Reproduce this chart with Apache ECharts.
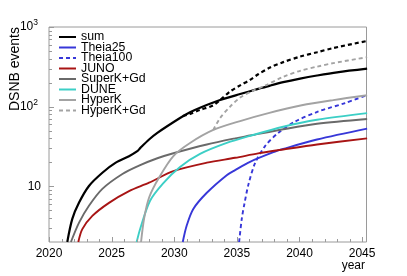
<!DOCTYPE html>
<html>
<head>
<meta charset="utf-8">
<script src="https://cdn.jsdelivr.net/npm/echarts@6/dist/echarts.min.js"></script>
<style>
html,body{margin:0;padding:0;background:#fff;}
#c{width:407px;height:276px;}
</style>
</head>
<body>
<div id="c"></div>
<script>
// ---- data ----
const sumYears = [2021.46, 2021.86, 2022.4, 2023.19, 2024.26, 2025.33, 2026.39, 2027.05, 2027.3, 2027.99, 2028.65, 2030.46, 2031.26, 2032.06, 2033.66, 2035.26, 2036.7, 2037.65, 2038.7, 2040.05, 2041.4, 2043.0, 2045.4];
const sumVals  = [2, 3.9, 6.25, 10.1, 14.8, 19.8, 23.9, 27.6, 30.4, 38.7, 46.9, 72, 85, 97, 121, 144, 167, 184, 203, 225, 246, 270, 300];

const sumAltYears = [2030.68, 2031.26, 2032.06, 2033.12, 2033.66, 2034.46, 2035.26, 2036.05, 2036.7, 2037.65, 2038.7, 2040.05, 2041.4, 2042.7, 2045.4];
const sumAltVals  = [76, 81, 91, 104, 121, 155, 185, 217, 255, 310, 362, 425, 482, 545, 668];

const theia25Years = [2030.68, 2030.99, 2031.52, 2032.6, 2034.19, 2034.86, 2036.05, 2038.05, 2038.7, 2041.4, 2045.4];
const theia25Vals  = [2, 3.2, 5.2, 8.3, 13.8, 16.0, 20.3, 27.3, 29.5, 38.7, 53];

const theia100Years = [2035.18, 2035.39, 2035.6, 2035.92, 2036.45, 2037.25, 2038.32, 2039.65, 2041.51, 2043.64, 2045.4];
const theia100Vals  = [2, 3.9, 6, 10.5, 19.5, 32, 47, 65, 87, 111, 140];

const junoYears = [2022.34, 2022.66, 2023.46, 2024.79, 2026.39, 2027.99, 2029.93, 2032.6, 2034.86, 2036.7, 2038.7, 2041.4, 2045.4];
const junoVals  = [2, 2.9, 4.25, 6.2, 8.7, 11.1, 15.5, 19.8, 22.8, 25.9, 29, 33.5, 40];

const superkYears = [2021.75, 2022.4, 2023.19, 2024.26, 2025.86, 2027.19, 2028.65, 2029.93, 2032.6, 2034.86, 2036.05, 2038.7, 2041.4, 2045.4];
const superkVals  = [2, 3.5, 5.7, 9.3, 14.3, 18.2, 22.5, 26, 33.5, 40, 43.4, 52, 61, 70];

const duneYears = [2027.0, 2027.3, 2028.07, 2029.13, 2030.46, 2032.06, 2034.19, 2036.05, 2038.7, 2041.4, 2045.4];
const duneVals  = [2, 3, 6.6, 11, 17.5, 25.5, 35, 43, 56, 68.5, 83];

const hyperkYears = [2027.35, 2027.6, 2028.0, 2028.8, 2029.93, 2031.26, 2033.12, 2035.26, 2037.52, 2040.18, 2042.7, 2045.4];
const hyperkVals  = [2, 4, 7.3, 13, 24, 35, 51, 66, 83, 104, 121, 139];

const hyperkGdYears = [2033.12, 2033.66, 2034.46, 2035.26, 2036.05, 2037.3, 2038.7, 2040.05, 2041.4, 2042.7, 2045.4];
const hyperkGdVals  = [51, 72, 100, 130, 152, 185, 237, 282, 318, 352, 418];

const xMajorTicks = [2020, 2025, 2030, 2035, 2040, 2045];
const xMinorTicks = [2021, 2022, 2023, 2024, 2026, 2027, 2028, 2029, 2031, 2032, 2033, 2034, 2036, 2037, 2038, 2039, 2041, 2042, 2043, 2044];
const yMajorTicks = [10, 100, 1000];
const yMinorTicks = [3, 4, 5, 6, 7, 8, 9, 20, 30, 40, 50, 60, 70, 80, 90, 200, 300, 400, 500, 600, 700, 800, 900];

const legendNames = ['sum', 'Theia25', 'Theia100', 'JUNO', 'SuperK+Gd', 'DUNE', 'HyperK', 'HyperK+Gd'];

// ---- styling ----
const FONT = "'Liberation Sans', Arial, Helvetica, sans-serif";
const AXIS = '#9a9a9a';
const X_MIN = 2020, X_MAX = 2045.35, Y_MIN = 2, Y_MAX = 1000;

const zip = (xs, ys) => xs.map((x, i) => [x, ys[i]]);

function line(name, xs, ys, color, width, dashed) {
  return {
    name: name, type: 'line', data: zip(xs, ys),
    symbol: 'none', smooth: 0.3, clip: true, silent: true,
    lineStyle: { color: color, width: width, type: dashed ? [4, 3] : 'solid' },
    itemStyle: { color: color },
    z: 3
  };
}

const tickData = []
  .concat(xMajorTicks.map(v => [v, Y_MIN, 0, 1]))
  .concat(xMinorTicks.map(v => [v, Y_MIN, 0, 0]))
  .concat(yMajorTicks.map(v => [X_MIN, v, 1, 1]))
  .concat(yMinorTicks.map(v => [X_MIN, v, 1, 0]));

const chart = echarts.init(document.getElementById('c'), null, { renderer: 'canvas' });
chart.setOption({
  animation: false,
  backgroundColor: '#fff',
  textStyle: { fontFamily: FONT },
  grid: { left: 49, right: 40.5, top: 27, bottom: 34, show: true, borderColor: AXIS, borderWidth: 1, backgroundColor: 'transparent' },
  legend: {
    data: legendNames, orient: 'vertical', left: 58, top: 31,
    itemWidth: 17, itemHeight: 10, itemGap: -1.5,
    itemStyle: { opacity: 0 },
    textStyle: { fontFamily: FONT, fontSize: 12.3, color: '#000' },
    selectedMode: false, padding: 0
  },
  xAxis: {
    type: 'value', min: X_MIN, max: X_MAX, interval: 5,
    axisLine: { show: false }, axisTick: { show: false }, splitLine: { show: false },
    axisLabel: {
      color: '#000', fontSize: 12, fontFamily: FONT, margin: 6, showMaxLabel: false,
      formatter: v => (Math.abs(v % 5) < 1e-6 ? String(Math.round(v)) : '')
    }
  },
  yAxis: {
    type: 'log', logBase: 10, min: Y_MIN, max: Y_MAX,
    axisLine: { show: false }, axisTick: { show: false }, splitLine: { show: false }, minorTick: { show: false },
    axisLabel: {
      margin: 8,
      formatter: v => {
        const l = Math.log10(v), e = Math.round(l);
        if (Math.abs(l - e) > 1e-6) return '';
        if (e === 1) return '{b|10}';
        return '{b|10}{s|' + e + '}';
      },
      rich: {
        b: { fontSize: 12, fontFamily: FONT, color: '#000' },
        s: { fontSize: 8.5, fontFamily: FONT, color: '#000', padding: [0, 3, 9, 0] }
      }
    }
  },
  graphic: [{
    type: 'text', x: 15, y: 27, rotation: Math.PI / 2,
    style: { text: 'DSNB events', font: '14px ' + FONT, fill: '#000', align: 'right', verticalAlign: 'middle' }
  }, {
    type: 'text', x: 365, y: 266,
    style: { text: 'year', font: '12px ' + FONT, fill: '#000', align: 'right', verticalAlign: 'middle' }
  }],
  series: [
    line('sum', sumYears, sumVals, '#000000', 2.2, false),
    line('Theia25', theia25Years, theia25Vals, '#3737d8', 1.9, false),
    line('Theia100', theia100Years, theia100Vals, '#3737d8', 1.9, true),
    line('JUNO', junoYears, junoVals, '#a81414', 1.9, false),
    line('SuperK+Gd', superkYears, superkVals, '#6a6a6a', 1.9, false),
    line('DUNE', duneYears, duneVals, '#3ccfc6', 1.9, false),
    line('HyperK', hyperkYears, hyperkVals, '#a3a3a3', 1.9, false),
    line('HyperK+Gd', hyperkGdYears, hyperkGdVals, '#a3a3a3', 1.9, true),
    line('sum (Theia100, HyperK+Gd)', sumAltYears, sumAltVals, '#000000', 2.2, true),
    {
      type: 'custom', name: 'ticks', silent: true, clip: false, z: 5,
      data: tickData, encode: { x: 0, y: 1 },
      renderItem: (params, api) => {
        const kind = api.value(2), major = api.value(3);
        const len = major ? 5 : 3;
        if (kind === 0) {
          const p = api.coord([api.value(0), Y_MIN]);
          const x = Math.round(p[0]) + 0.5;
          return { type: 'line', shape: { x1: x, y1: p[1], x2: x, y2: p[1] - len }, style: { stroke: AXIS, lineWidth: 1 } };
        }
        const p = api.coord([X_MIN, api.value(1)]);
        const y = Math.round(p[1]) + 0.5;
        return { type: 'line', shape: { x1: p[0], y1: y, x2: p[0] + len, y2: y }, style: { stroke: AXIS, lineWidth: 1 } };
      }
    }
  ]
});
</script>
</body>
</html>
